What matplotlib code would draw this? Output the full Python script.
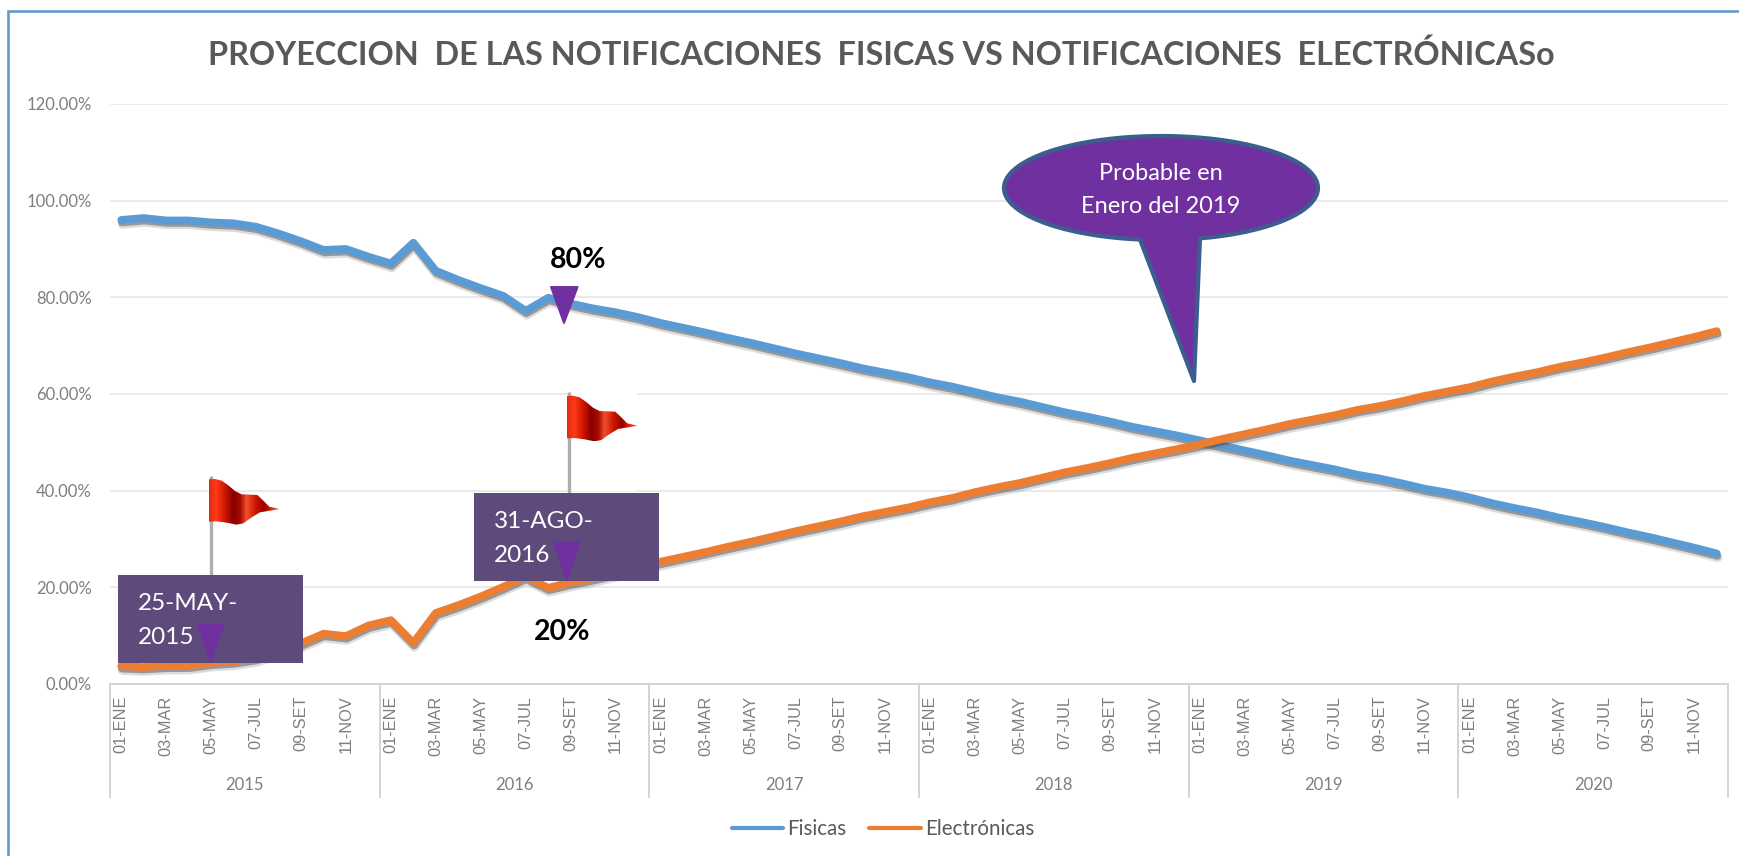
import numpy as np
import matplotlib
matplotlib.use('Agg')
import matplotlib.pyplot as plt
import matplotlib.patheffects as pe
from matplotlib.colors import LinearSegmentedColormap
from matplotlib.lines import Line2D
from matplotlib.patches import Polygon, Rectangle

W, H = 1739, 856

years = ['2015', '2016', '2017', '2018', '2019', '2020']
month_labels = ['01-ENE', '03-MAR', '05-MAY', '07-JUL', '09-SET', '11-NOV']
y_ticks = [0, 20, 40, 60, 80, 100, 120]

fisicas = [96.0, 96.4, 95.9, 95.9, 95.5, 95.3, 94.6, 93.2, 91.6, 89.8, 90.0, 88.4,
           87.0, 91.3, 85.5, 83.6, 81.9, 80.3, 77.2, 79.9, 78.7, 77.7, 76.9, 75.9,
           74.7, 73.7, 72.7, 71.6, 70.6, 69.5, 68.4, 67.4, 66.4, 65.3, 64.4, 63.5,
           62.4, 61.5, 60.4, 59.3, 58.4, 57.3, 56.2, 55.3, 54.3, 53.2, 52.3, 51.4,
           50.4, 49.3, 48.3, 47.3, 46.2, 45.3, 44.4, 43.3, 42.5, 41.5, 40.4, 39.6,
           38.6, 37.4, 36.4, 35.5, 34.4, 33.5, 32.5, 31.4, 30.4, 29.3, 28.2, 27.0]
electronicas = [3.7, 3.5, 3.8, 3.8, 4.4, 4.7, 5.4, 6.8, 8.4, 10.4, 9.9, 12.1,
                13.2, 8.5, 14.7, 16.3, 18.1, 20.1, 22.2, 19.9, 21.0, 21.9, 23.0, 24.1,
                25.3, 26.3, 27.3, 28.4, 29.4, 30.5, 31.6, 32.6, 33.6, 34.7, 35.6, 36.5,
                37.6, 38.5, 39.7, 40.7, 41.6, 42.7, 43.8, 44.7, 45.7, 46.8, 47.7, 48.6,
                49.6, 50.7, 51.7, 52.7, 53.8, 54.7, 55.6, 56.7, 57.5, 58.5, 59.6, 60.5,
                61.4, 62.6, 63.6, 64.5, 65.6, 66.5, 67.5, 68.6, 69.6, 70.7, 71.8, 73.0]

BLUE = '#5b9bd5'
ORANGE = '#ed7d31'
PURPLE = '#7030a0'
GREY = '#7f7f7f'

plt.rcParams['font.family'] = ['Lato', 'DejaVu Sans']

fig = plt.figure(figsize=(W / 100, H / 100), dpi=100, facecolor='white')

## MAIN CHART
ax = fig.add_axes([110 / W, (H - 684) / H, 1618 / W, 580 / H])
shadow = [pe.SimpleLineShadow(offset=(0.7, -3), shadow_color='#777777', alpha=0.25, linewidth=6.5),
          pe.SimpleLineShadow(offset=(0.5, -1.8), shadow_color='#444444', alpha=0.45, linewidth=5.5),
          pe.Normal()]
x = np.arange(len(fisicas))
ax.plot(x, fisicas, color=BLUE, lw=5.6, solid_capstyle='round', solid_joinstyle='round', path_effects=shadow)
ax.plot(x, electronicas, color=ORANGE, lw=5.6, solid_capstyle='round', solid_joinstyle='round', path_effects=shadow)

ax.set_xlim(-0.5, 71.5)
ax.set_ylim(0, 120)
ax.set_yticks(y_ticks, labels=[f'{t:.2f}%' for t in y_ticks], fontsize=12, color=GREY)
ax.set_xticks(np.arange(0, 72, 2), labels=month_labels * 6, rotation=90, fontsize=11.8, color=GREY,
              family='Liberation Sans')
ax.tick_params(axis='x', length=0, pad=8.5)
ax.tick_params(axis='y', length=0, pad=13)
ax.grid(axis='y', color='#e6e6e6', lw=1.2)
ax.set_axisbelow(True)
for side in ('top', 'left', 'right'):
    ax.spines[side].set_visible(False)
ax.spines['bottom'].set_color('#d4d4d4')
ax.spines['bottom'].set_linewidth(1.4)

# year separators and year labels below the month labels
trans = ax.get_xaxis_transform()
for i in range(len(years) + 1):
    ax.plot([i * 12 - 0.5] * 2, [0, -0.195], transform=trans, color='#d4d4d4', lw=1.4, clip_on=False)
for i, year in enumerate(years):
    ax.text(i * 12 + 5.5, -0.174, year, transform=trans, ha='center', va='center', fontsize=12, color=GREY)

handles = [Line2D([], [], color=BLUE, lw=3, solid_capstyle='round'),
           Line2D([], [], color=ORANGE, lw=3, solid_capstyle='round')]
fig.legend(handles, ['Fisicas', 'Electrónicas'], loc='center', bbox_to_anchor=(883 / W, (H - 829) / H),
           ncol=2, frameon=False, fontsize=14.8, labelcolor='#595959', handlelength=2.5, handletextpad=0.2,
           columnspacing=1.1, borderpad=0)

## OVERLAY IN PIXELS (frame, title, shapes pasted on top of the chart)
ov = fig.add_axes([0, 0, 1, 1], facecolor='none')
ov.axis('off')

ov.plot([8, 8, W], [H, 11, 11], color='#6699cc', lw=1.9, solid_joinstyle='miter')
ov.text(881, 55, 'PROYECCION  DE LAS NOTIFICACIONES  FISICAS VS NOTIFICACIONES  ELECTRÓNICASo', ha='center',
        va='center', fontsize=23.3, fontweight='bold', color='#595959')

# white square of the second flag picture hides the gridlines
ov.add_patch(Rectangle((568, 393), 69, 98, color='white', lw=0, zorder=1))

flag_cmap = LinearSegmentedColormap.from_list('flag', [(0, '#e02a10'), (0.1, '#ff3a18'), (0.22, '#d01800'),
                                                       (0.34, '#8a0000'), (0.44, '#a50a00'), (0.53, '#f0502c'),
                                                       (0.66, '#cc1400'), (0.78, '#980000'), (0.88, '#e02808'),
                                                       (1, '#ff4a20')])
flag_outline = np.array([[86, 298], [105, 297], [125, 302], [145, 316], [165, 333], [185, 343], [210, 344],
                         [232, 345], [250, 362], [268, 380], [298, 387], [270, 392], [240, 397], [215, 412],
                         [190, 430], [170, 434], [140, 428], [110, 424], [86, 425]])
gradient = np.linspace(0, 1, 256).reshape(1, -1)


def draw_flag(dx, dy, base_y):
    # zoomed outline -> picture pixels, then moved onto the pole
    pts = flag_outline / 3 + [180 + dx, 380 + dy]
    pole_x = 210.5 + dx
    ov.plot([pole_x, pole_x], [475.5 + dy, base_y], color='#aeaeae', lw=2.4, solid_capstyle='butt', zorder=2)
    patch = Polygon(pts, closed=True, facecolor='none', edgecolor='none', zorder=3)
    ov.add_patch(patch)
    img = ov.imshow(gradient, cmap=flag_cmap, aspect='auto', zorder=3,
                    extent=(pts[:, 0].min(), pts[:, 0].max(), pts[:, 1].max(), pts[:, 1].min()))
    img.set_clip_path(patch)


draw_flag(0, 0, 575)
draw_flag(358, -83.3, 493)


def draw_date_box(x0, y0, line1, line2, tri):
    ov.add_patch(Rectangle((x0, y0), 185, 88, color='#5f4b7b', lw=0, zorder=4))
    ov.text(x0 + 20, y0 + 28, line1, color='white', fontsize=17.5, ha='left', va='center', zorder=5)
    ov.text(x0 + 20, y0 + 62, line2, color='white', fontsize=17.5, ha='left', va='center', zorder=5)
    draw_triangle(*tri)


def draw_triangle(x0, x1, tip_x, top, tip_y):
    ov.add_patch(Polygon([[x0 + 1, top + 1], [x1 - 1, top + 1], [tip_x, tip_y - 1]], closed=True, facecolor=PURPLE,
                         edgecolor=PURPLE, lw=1.4, joinstyle='round', zorder=6))


draw_date_box(118, 575, '25-MAY-', '2015', (197, 224.5, 210.7, 624, 663))
draw_date_box(474, 493, '31-AGO-', '2016', (553, 581, 567, 541, 581))
draw_triangle(550, 578.6, 564, 286, 324)

ov.text(578, 260, '80%', color='black', fontsize=20.5, fontweight='bold', ha='center', va='center', zorder=6)
ov.text(562.5, 632, '20%', color='black', fontsize=20.5, fontweight='bold', ha='center', va='center', zorder=6)

# speech bubble
cx, cy, rx, ry = 1161, 188, 157, 52
right = np.arcsin((1200 - cx) / rx)
left = np.arcsin((1140 - cx) / rx)
ang = np.linspace(right, left + 2 * np.pi, 200)
bubble = np.column_stack([cx + rx * np.sin(ang), cy + ry * np.cos(ang)])
bubble = np.vstack([bubble, [[1194, 381]]])
ov.add_patch(Polygon(bubble, closed=True, facecolor=PURPLE, edgecolor='#3a5f8f', lw=3, joinstyle='round', zorder=6))
ov.text(1161, 173, 'Probable en', color='white', fontsize=17, ha='center', va='center', zorder=7)
ov.text(1161, 206, 'Enero del 2019', color='white', fontsize=17, ha='center', va='center', zorder=7)

ov.set_xlim(0, W)
ov.set_ylim(H, 0)

fig.savefig('out.png', dpi=100)
